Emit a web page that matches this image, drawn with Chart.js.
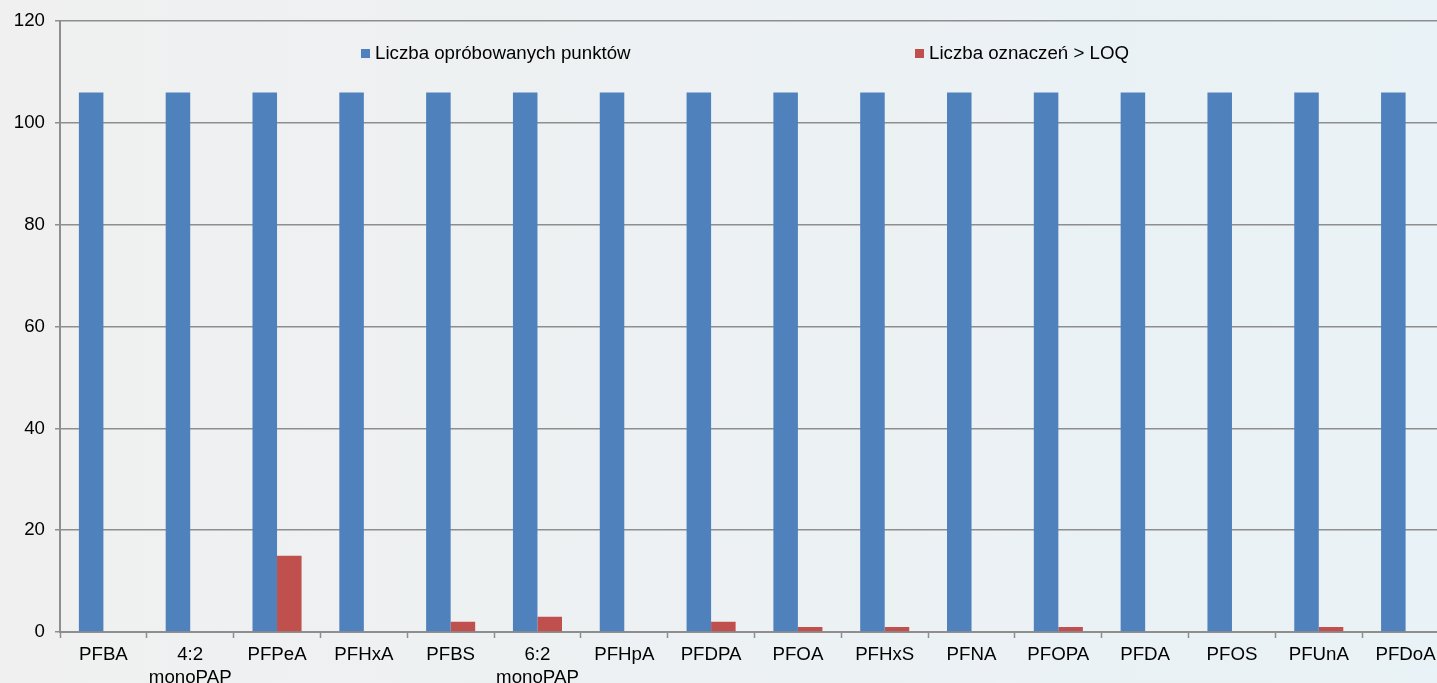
<!DOCTYPE html>
<html>
<head>
<meta charset="utf-8">
<script src="https://cdn.jsdelivr.net/npm/chart.js@4.4.0/dist/chart.umd.min.js"></script>
<style>
  html, body { margin: 0; padding: 0; overflow: hidden; background: #f0f0f0; }
  #wrap { position: relative; width: 1450px; height: 683px; }
</style>
</head>
<body>
<div id="wrap"><canvas id="myChart"></canvas></div>
<script>
// Dane wykresu
var categories = ['PFBA', ['4:2', 'monoPAP'], 'PFPeA', 'PFHxA', 'PFBS', ['6:2', 'monoPAP'], 'PFHpA', 'PFDPA',
    'PFOA', 'PFHxS', 'PFNA', 'PFOPA', 'PFDA', 'PFOS', 'PFUnA', 'PFDoA'];
var sampledPoints = [106, 106, 106, 106, 106, 106, 106, 106, 106, 106, 106, 106, 106, 106, 106, 106];
var aboveLoq = [0, 0, 15, 0, 2, 3, 0, 2, 1, 1, 0, 1, 0, 0, 1, 0];
var yTicks = [0, 20, 40, 60, 80, 100, 120];

var gridColor = '#8e8e8e';
var fontFamily = '"Liberation Sans", Arial, sans-serif';
var fontSize = 18.7;

// Tło z gradientem
var backgroundPlugin = {
    id: 'bg',
    beforeDraw: function(chart) {
        var c = chart.ctx;
        var g = c.createLinearGradient(0, 0, chart.width, 0);
        g.addColorStop(0, '#f0f0f0');
        g.addColorStop(1, '#e9f2f6');
        c.save();
        c.fillStyle = g;
        c.fillRect(0, 0, chart.width, chart.height);
        c.restore();
    }
};

// Legenda wewnątrz obszaru wykresu
var legendPlugin = {
    id: 'insideLegend',
    afterDraw: function(chart) {
        var c = chart.ctx;
        var xs = [361, 915];
        c.save();
        c.font = fontSize + 'px ' + fontFamily;
        c.textBaseline = 'alphabetic';
        chart.data.datasets.forEach(function(ds, i) {
            c.fillStyle = ds.backgroundColor;
            c.fillRect(xs[i], 49, 9, 9);
            c.fillStyle = '#000';
            c.fillText(ds.label, xs[i] + 14, 59);
        });
        c.restore();
    }
};

var ctx = document.getElementById('myChart').getContext('2d');
var chart = new Chart(ctx, {
    type: 'bar',
    data: {
        labels: categories,
        datasets: [{
            label: 'Liczba opróbowanych punktów',
            data: sampledPoints,
            backgroundColor: '#4f81bd'
        }, {
            label: 'Liczba oznaczeń > LOQ',
            data: aboveLoq,
            backgroundColor: '#c0504d'
        }]
    },
    options: {
        responsive: true,
        maintainAspectRatio: false,
        animation: false,
        layout: { padding: { top: 18, right: 1, left: 0, bottom: 0 } },
        datasets: { bar: { categoryPercentage: 0.565, barPercentage: 1.0 } },
        plugins: {
            legend: { display: false },
            tooltip: { enabled: false }
        },
        scales: {
            x: {
                offset: true,
                grid: { offset: true, drawOnChartArea: false, drawTicks: true, tickLength: 6, tickColor: gridColor, tickWidth: 1.5 },
                border: { display: true, color: gridColor, width: 2 },
                ticks: {
                    autoSkip: false, maxRotation: 0, minRotation: 0, padding: 6,
                    color: '#000',
                    font: { family: fontFamily, size: fontSize, lineHeight: 1.2 }
                },
                afterFit: function(scale) { scale.height = 51; }
            },
            y: {
                min: 0,
                max: 120,
                afterBuildTicks: function(scale) {
                    scale.ticks = yTicks.map(function(v) { return { value: v }; });
                },
                grid: { color: gridColor, lineWidth: 1.5, tickLength: 5, tickColor: gridColor },
                border: { display: true, color: gridColor, width: 2 },
                ticks: {
                    padding: 10,
                    color: '#000',
                    font: { family: fontFamily, size: fontSize }
                },
                afterFit: function(scale) { scale.width = 60; }
            }
        }
    },
    plugins: [backgroundPlugin, legendPlugin]
});
</script>
</body>
</html>
